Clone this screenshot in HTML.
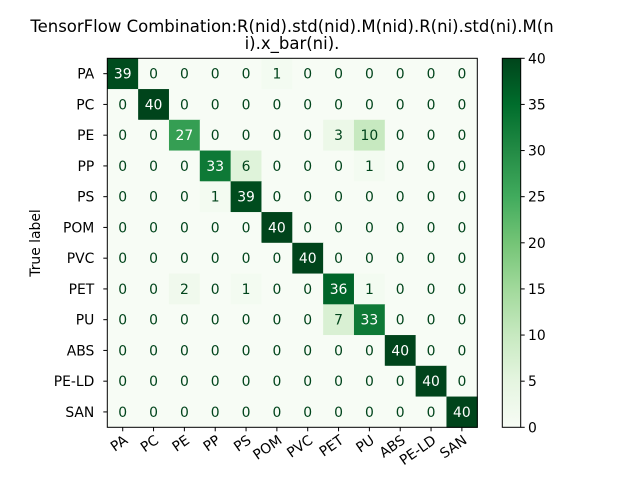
<!DOCTYPE html>
<html><head><meta charset="utf-8"><style>
body{margin:0;background:#fff;}
svg{display:block;font-family:"DejaVu Sans","Liberation Sans",sans-serif;}
</style></head><body>
<svg id="c" width="640" height="480" xmlns="http://www.w3.org/2000/svg">
<defs><linearGradient id="cbg" x1="0" y1="1" x2="0" y2="0">
<stop offset="0" stop-color="#f7fcf5"/><stop offset="0.125" stop-color="#e5f5e0"/><stop offset="0.25" stop-color="#c7e9c0"/><stop offset="0.375" stop-color="#a1d99b"/><stop offset="0.5" stop-color="#74c476"/><stop offset="0.625" stop-color="#41ab5d"/><stop offset="0.75" stop-color="#238b45"/><stop offset="0.875" stop-color="#006d2c"/><stop offset="1" stop-color="#00441b"/></linearGradient></defs>
<text x="292" y="32" font-size="16.5" text-anchor="middle">TensorFlow Combination:R(nid).std(nid).M(nid).R(ni).std(ni).M(n</text>
<text x="292" y="49" font-size="16.5" text-anchor="middle">i).x_bar(ni).</text>
<text transform="translate(40,243) rotate(-90)" font-size="13.9" text-anchor="middle">True label</text>
<g id="cells"></g>
<rect x="502.3" y="58.3" width="18.4" height="369" fill="url(#cbg)" stroke="#000" stroke-width="1"/>
<g id="cbt"></g>
</svg>
<script>
const labels=["PA","PC","PE","PP","PS","POM","PVC","PET","PU","ABS","PE-LD","SAN"];
const matrix=[
[39,0,0,0,0,1,0,0,0,0,0,0],
[0,40,0,0,0,0,0,0,0,0,0,0],
[0,0,27,0,0,0,0,3,10,0,0,0],
[0,0,0,33,6,0,0,0,1,0,0,0],
[0,0,0,1,39,0,0,0,0,0,0,0],
[0,0,0,0,0,40,0,0,0,0,0,0],
[0,0,0,0,0,0,40,0,0,0,0,0],
[0,0,2,0,1,0,0,36,1,0,0,0],
[0,0,0,0,0,0,0,7,33,0,0,0],
[0,0,0,0,0,0,0,0,0,40,0,0],
[0,0,0,0,0,0,0,0,0,0,40,0],
[0,0,0,0,0,0,0,0,0,0,0,40]];
const cbTicks=[0,5,10,15,20,25,30,35,40];
const NS="http://www.w3.org/2000/svg";
const X0=107.3,Y0=58.3,W=370,H=369,n=labels.length,cw=W/n,ch=H/n,vmax=40;
const stops=[[247,252,245],[229,245,224],[199,233,192],[161,217,155],[116,196,118],[65,171,93],[35,139,69],[0,109,44],[0,68,27]];
function col(v){let t=Math.max(0,Math.min(1,v/vmax))*8;let i=Math.min(7,Math.floor(t)),f=t-i;
 const a=stops[i],b=stops[i+1];return `rgb(${a.map((x,k)=>Math.round(x+(b[k]-x)*f)).join(',')})`;}
function el(t,at,p){const e=document.createElementNS(NS,t);for(const k in at)e.setAttribute(k,at[k]);p.appendChild(e);return e;}
const g=document.getElementById('cells'),svg=document.getElementById('c');
matrix.forEach((row,i)=>row.forEach((v,j)=>{
 const r=el('rect',{x:X0+j*cw,y:Y0+i*ch,width:cw+0.5,height:ch+0.5,fill:col(v)},g);
 
 
 const t=el('text',{x:X0+(j+0.5)*cw,y:Y0+(i+0.5)*ch+5,'font-size':13.9,'text-anchor':'middle',fill:v>vmax/2?'#fff':'#00441b'},g);
 t.textContent=v;
 
 
}));
el('rect',{x:X0,y:Y0,width:W,height:H,fill:'none',stroke:'#000','stroke-width':1},g);
labels.forEach((l,i)=>{
 const y=Y0+(i+0.5)*ch;
 el('line',{x1:X0-4,x2:X0,y1:y,y2:y,stroke:'#000'},g);
 const t=el('text',{x:X0-13,y:y+5,'font-size':13.9,'text-anchor':'end'},g);t.textContent=l;
 
 
 const x=X0+(i+0.5)*cw;
 el('line',{x1:x,x2:x,y1:Y0+H,y2:Y0+H+4,stroke:'#000'},g);
 const t2=el('text',{'font-size':13.9,'text-anchor':'end',transform:`translate(${x+6},${Y0+H+15}) rotate(-35)`},g);t2.textContent=l;
 
 
});
const cb=document.getElementById('cbt');
cbTicks.forEach(v=>{
 const y=Y0+H-v/vmax*H;
 el('line',{x1:520.7,x2:524.7,y1:y,y2:y,stroke:'#000'},cb);
 const t=el('text',{x:528,y:y+5,'font-size':13.9},cb);t.textContent=v;
 
 
});
</script>
</body></html>
